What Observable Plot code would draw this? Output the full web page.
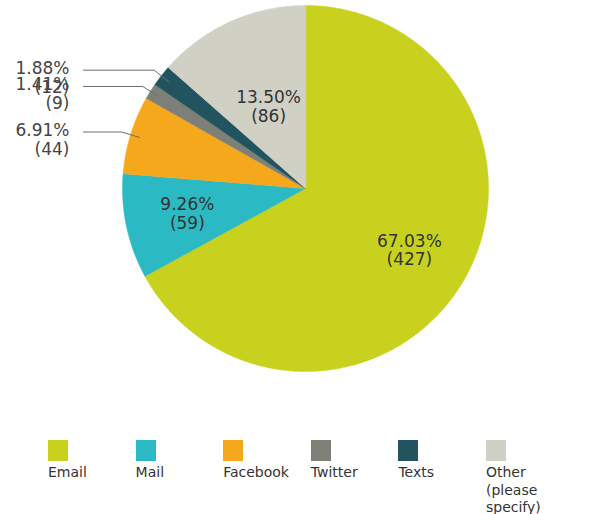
<!DOCTYPE html>
<html><head><meta charset="utf-8">
<script src="https://cdn.jsdelivr.net/npm/d3@7"></script>
<script src="https://cdn.jsdelivr.net/npm/@observablehq/plot@0.6"></script>
<style>
html,body{margin:0;padding:0;background:#fff;overflow:hidden;}
body{font-family:"DejaVu Sans",sans-serif;width:613px;}
#legend{display:flex;padding-left:48px;margin-top:40px;}
.item{width:87.6px;flex:none;}
.sw{width:20px;height:21px;}
.lab{margin-top:3px;font-size:14px;line-height:17.5px;color:#333;width:80px;}
</style></head><body>
<div id="chart"></div>
<div id="legend"></div>
<script>
const categories = ["Email", "Mail", "Facebook", "Twitter", "Texts", "Other (please specify)"];
const counts = [427, 59, 44, 9, 12, 86];
const percents = [67.03, 9.26, 6.91, 1.41, 1.88, 13.50];
const colors = ["#c8d21e", "#2bbac4", "#f6a81d", "#7e7f77", "#22545f", "#d1d0c5"];

const W = 613, H = 400, cx = 305, cy = 188, R = 183;

const rows = categories.map((name, i) => ({name, count: counts[i], pct: percents[i]}));
const arcs = d3.pie().sort(null).value(d => d.count).startAngle(0).endAngle(2 * Math.PI)(rows);

const pt = (a, r) => ({x: Math.sin(a) * r, y: -Math.cos(a) * r});

// slice polygons
const slicePts = [];
for (const a of arcs) {
  const n = Math.max(2, Math.ceil((a.endAngle - a.startAngle) / 0.01));
  slicePts.push({name: a.data.name, x: 0, y: 0});
  for (let k = 0; k <= n; k++) {
    const t = a.startAngle + (a.endAngle - a.startAngle) * k / n;
    slicePts.push({name: a.data.name, ...pt(t, 1)});
  }
}

const mid = a => (a.startAngle + a.endAngle) / 2;
const fmt = d => `${d.pct.toFixed(2)}%\n(${d.count})`;

const inside = arcs.filter(a => a.data.pct >= 8).map(a => {
  const r = a.data.name.startsWith("Other") ? 0.49 : 0.66;
  return {...pt(mid(a), r), text: fmt(a.data)};
});

const textX = (69 - cx) / R, lineX = (83 - cx) / R;
const outsideArcs = arcs.filter(a => a.data.pct < 8);
const outside = [], leaders = [];
for (const a of outsideArcs) {
  const m = mid(a);
  const ly = -Math.cos(m) * 1.05;
  const ex = -Math.sqrt(Math.max(0, 1.05 * 1.05 - ly * ly));
  const end = pt(m, 0.95);
  outside.push({x: textX, y: ly, text: fmt(a.data)});
  leaders.push({name: a.data.name, x: lineX, y: ly});
  leaders.push({name: a.data.name, x: ex, y: ly});
  leaders.push({name: a.data.name, x: end.x, y: end.y});
}

const chart = Plot.plot({
  width: W, height: H, margin: 0,
  x: {domain: [-cx / R, (W - cx) / R], range: [0, W], axis: null},
  y: {domain: [-cy / R, (H - cy) / R], range: [0, H], axis: null},
  color: {domain: categories, range: colors},
  style: {fontFamily: "DejaVu Sans, sans-serif", background: "transparent"},
  marks: [
    Plot.line(slicePts, {x: "x", y: "y", z: "name", fill: "name", stroke: "name", strokeWidth: 0.5, curve: "linear-closed"}),
    Plot.line(leaders, {x: "x", y: "y", z: "name", stroke: "#6e6e6e", strokeWidth: 1}),
    Plot.text(inside, {x: "x", y: "y", text: "text", fontSize: 17, fill: "#333", lineHeight: 1.1, lineAnchor: "middle"}),
    Plot.text(outside, {x: "x", y: "y", text: "text", fontSize: 17, fill: "#444", lineHeight: 1.12, lineAnchor: "top", textAnchor: "end", dy: -10})
  ]
});
document.getElementById("chart").appendChild(chart);

const legend = document.getElementById("legend");
categories.forEach((c, i) => {
  const it = document.createElement("div"); it.className = "item";
  const sw = document.createElement("div"); sw.className = "sw"; sw.style.background = colors[i];
  const lb = document.createElement("div"); lb.className = "lab"; lb.textContent = c;
  it.appendChild(sw); it.appendChild(lb); legend.appendChild(it);
});
</script>
</body></html>
